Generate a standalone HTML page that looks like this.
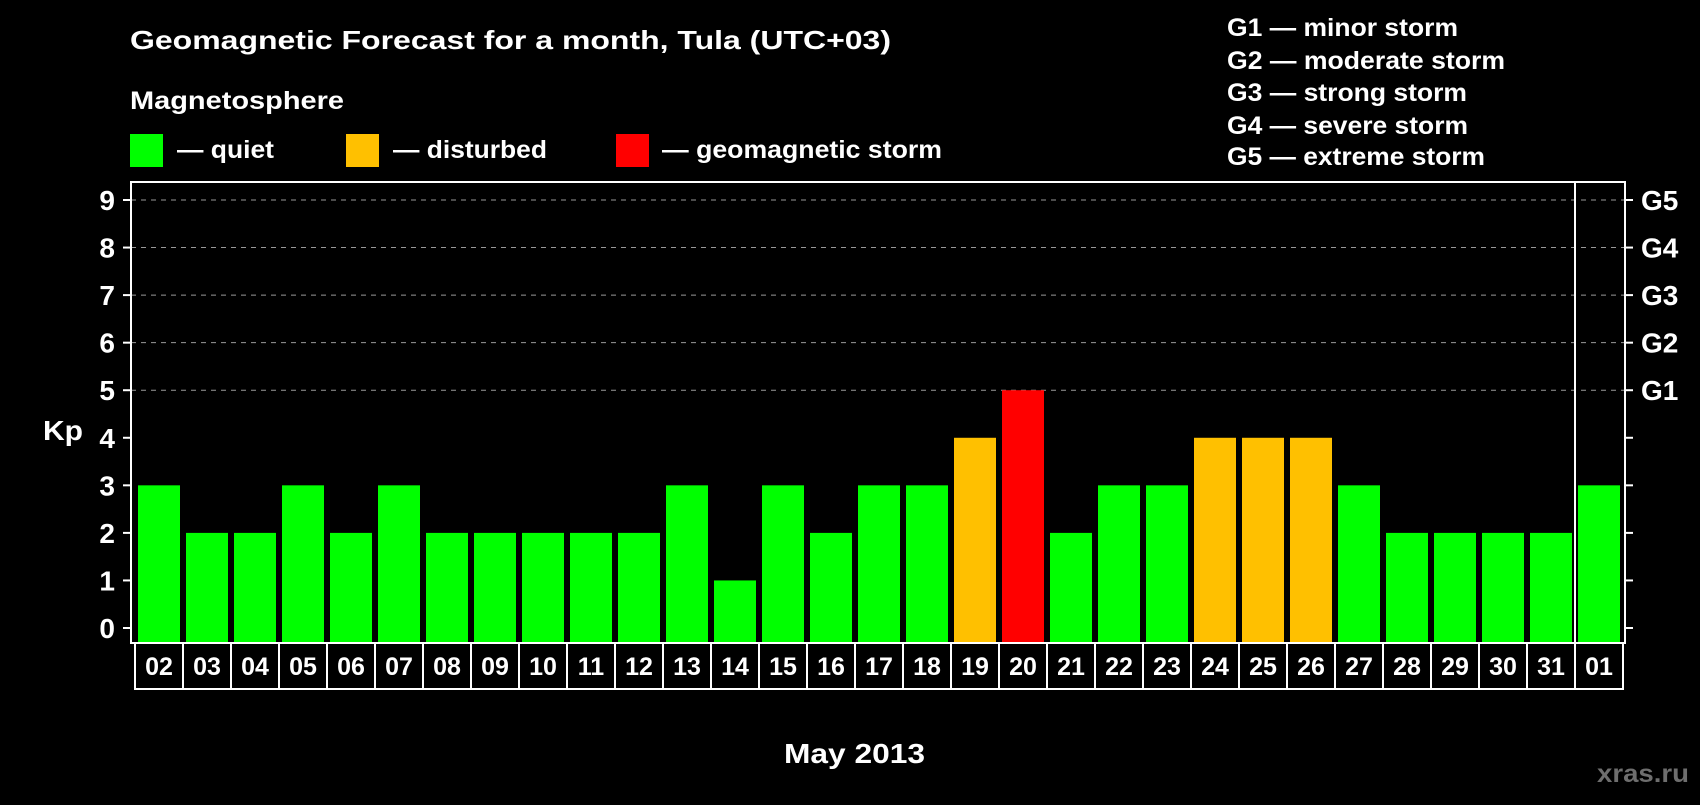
<!DOCTYPE html>
<html><head><meta charset="utf-8"><style>
body{margin:0;background:#000;width:1700px;height:800px;overflow:hidden;font-family:"Liberation Sans",Arial,sans-serif;font-weight:bold;color:#fff}
svg text{font-family:"Liberation Sans",Arial,sans-serif;font-weight:bold}
</style></head><body>
<svg id="chart" width="1700" height="800" xmlns="http://www.w3.org/2000/svg">
<rect width="1700" height="800" fill="#000"/>
<text x="130" y="49" fill="#fff" font-size="26" textLength="761" lengthAdjust="spacingAndGlyphs">Geomagnetic Forecast for a month, Tula (UTC+03)</text>
<text x="130" y="109" fill="#fff" font-size="25" textLength="214" lengthAdjust="spacingAndGlyphs">Magnetosphere</text>
<g><rect x="130" y="134" width="33" height="33" fill="#00ff00"/><text x="177" y="158" fill="#fff" font-size="25" textLength="97" lengthAdjust="spacingAndGlyphs">— quiet</text></g>
<g><rect x="346" y="134" width="33" height="33" fill="#ffc000"/><text x="393" y="158" fill="#fff" font-size="25" textLength="154" lengthAdjust="spacingAndGlyphs">— disturbed</text></g>
<g><rect x="616" y="134" width="33" height="33" fill="#ff0000"/><text x="662" y="158" fill="#fff" font-size="25" textLength="280" lengthAdjust="spacingAndGlyphs">— geomagnetic storm</text></g>
<g font-size="25" fill="#fff">
<text x="1227" y="36" textLength="231" lengthAdjust="spacingAndGlyphs">G1 — minor storm</text>
<text x="1227" y="69" textLength="278" lengthAdjust="spacingAndGlyphs">G2 — moderate storm</text>
<text x="1227" y="101" textLength="240" lengthAdjust="spacingAndGlyphs">G3 — strong storm</text>
<text x="1227" y="134" textLength="241" lengthAdjust="spacingAndGlyphs">G4 — severe storm</text>
<text x="1227" y="165" textLength="258" lengthAdjust="spacingAndGlyphs">G5 — extreme storm</text>
</g>
<g id="grid"></g>
<g id="bars"></g>
<g id="axes"></g>
<text x="43" y="440" fill="#fff" font-size="28" textLength="40" lengthAdjust="spacingAndGlyphs">Kp</text>
<text x="784" y="763" fill="#fff" font-size="28" textLength="141" lengthAdjust="spacingAndGlyphs">May 2013</text>
<text x="1597" y="782" fill="#6e6e6e" font-size="25" textLength="92" lengthAdjust="spacingAndGlyphs">xras.ru</text>
</svg>
<script>
const days=["02","03","04","05","06","07","08","09","10","11","12","13","14","15","16","17","18","19","20","21","22","23","24","25","26","27","28","29","30","31","01"];
const kp=[3,2,2,3,2,3,2,2,2,2,2,3,1,3,2,3,3,4,5,2,3,3,4,4,4,3,2,2,2,2,3];
const yTicks=[0,1,2,3,4,5,6,7,8,9];
const gLabels=["G1","G2","G3","G4","G5"];
const NS="http://www.w3.org/2000/svg";
const L=131,R=1625,T=182,B=643,X0=138,PITCH=48,BW=42;
const y=v=>628-v*(428/9);
const x=i=>X0+i*PITCH;
function mk(tag,attrs,parent,txt){const e=document.createElementNS(NS,tag);for(const k in attrs)e.setAttribute(k,attrs[k]);if(txt!==undefined)e.textContent=txt;parent.appendChild(e);return e;}
const grid=document.getElementById('grid'),bars=document.getElementById('bars'),axes=document.getElementById('axes');
yTicks.forEach(v=>{
 if(v>=5){const g=mk('line',{x1:L,x2:R,y1:y(v),y2:y(v),stroke:'#999','stroke-width':1,'stroke-dasharray':'5,5'},grid);
 
 }
 const t=mk('line',{x1:L-8,x2:L,y1:y(v),y2:y(v),stroke:'#fff','stroke-width':2},axes);
 
 
 const t2=mk('line',{x1:R,x2:R+8,y1:y(v),y2:y(v),stroke:'#fff','stroke-width':2},axes);
 
 
 const lb=mk('text',{x:115,y:y(v)+10,fill:'#fff','font-size':28,'text-anchor':'end'},axes,String(v));
 
 
 if(v>=5){const gl=mk('text',{x:1641,y:y(v)+10,fill:'#fff','font-size':28},axes,gLabels[v-5]);
 
 }
});
kp.forEach((v,i)=>{
 const c=v>=5?'#ff0000':(v>=4?'#ffc000':'#00ff00');
 const r=mk('rect',{x:x(i),y:y(v),width:BW,height:B-y(v),fill:c},bars);
 
 
 const bx=mk('rect',{x:x(i)-3,y:B,width:PITCH,height:46,fill:'none',stroke:'#fff','stroke-width':2},axes);
 
 
 const tl=mk('text',{x:x(i)+BW/2,y:B+32,fill:'#fff','font-size':25,'text-anchor':'middle'},axes,days[i]);
 
 
});
const fr=mk('rect',{x:L,y:T,width:R-L,height:B-T,fill:'none',stroke:'#fff','stroke-width':2},axes);


const dv=mk('line',{x1:x(days.length-1)-3,x2:x(days.length-1)-3,y1:T,y2:B,stroke:'#fff','stroke-width':2},axes);


</script>
</body></html>
